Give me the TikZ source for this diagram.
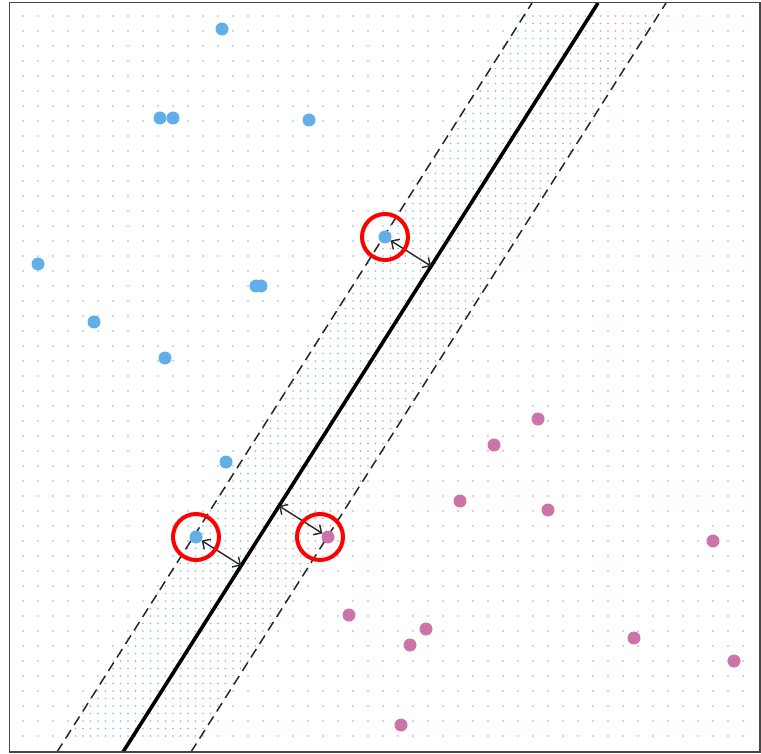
\documentclass[tikz,border=0pt]{standalone}
\usepackage{xcolor}
\usepackage{tikz}
\usetikzlibrary{arrows.meta, calc}
\definecolor{myblue}{RGB}{98,174,232}
\definecolor{mypink}{RGB}{204,116,168}
\definecolor{myframe}{RGB}{70,70,70}
\tikzset{
  bluept/.style={circle, fill=myblue, inner sep=0pt, minimum size=13pt},
  pinkpt/.style={circle, fill=mypink, inner sep=0pt, minimum size=13pt},
  svring/.style={circle, draw=red, line width=4pt, minimum size=46pt, inner sep=0pt},
  marginline/.style={line width=1.5pt, dash pattern=on 10pt off 6pt, color=black!85},
  hyperline/.style={line width=3.6pt, color=black},
  gaparrow/.style={{Straight Barb[length=6pt]}-{Straight Barb[length=6pt]}, line width=1.4pt, color=black!85},
  bluedot/.style={fill=myblue!85!white},
  pinkdot/.style={fill=mypink!80!white}
}

\begin{document}
\begin{tikzpicture}[x=1pt, y=-1pt]
  \useasboundingbox (0,0) rectangle (761,754);

  % coarse grid, coloured by side of the boundary
  \foreach \j in {0,...,48}{
    \foreach \i in {0,...,48}{
      \pgfmathsetmacro{\gx}{23+15*\i}
      \pgfmathsetmacro{\gy}{16+15*\j}
      \pgfmathsetmacro{\gd}{\gx-123-(752-\gy)*0.63418}
      \ifdim\gd pt<0pt
        \fill[bluedot] (\gx,\gy) circle (0.95pt);
      \else
        \fill[pinkdot] (\gx,\gy) circle (0.95pt);
      \fi
    }
  }

  % denser grid inside the margin
  \foreach \b in {0,...,96}{
    \pgfmathsetmacro{\gy}{16+7.5*\b}
    \pgfmathsetmacro{\gl}{123+(752-\gy)*0.63418}
    \pgfmathtruncatemacro{\alo}{ceil((\gl-67-23)/7.5)}
    \pgfmathtruncatemacro{\ahi}{min(96,floor((\gl+67-23)/7.5))}
    \foreach \a in {\alo,...,\ahi}{
      \pgfmathtruncatemacro{\skip}{and(iseven(\a),iseven(\b))}
      \ifnum\skip=0
        \pgfmathsetmacro{\gx}{23+7.5*\a}
        \ifdim\gx pt<\gl pt
          \fill[bluedot] (\gx,\gy) circle (0.85pt);
        \else
          \fill[pinkdot] (\gx,\gy) circle (0.85pt);
        \fi
      \fi
    }
  }

  % boundary and margins
  \coordinate (hbot) at (123,752);
  \coordinate (htop) at (598,3);
  \coordinate (lbot) at (57,752);
  \coordinate (ltop) at (532,3);
  \coordinate (rbot) at (191,752);
  \coordinate (rtop) at (666,3);
  \draw[marginline] (lbot) -- (ltop);
  \draw[marginline] (rbot) -- (rtop);
  \draw[hyperline] (hbot) -- (htop);

  % blue class
  \node[bluept] (b1)  at (222,29)  {};
  \node[bluept] (b2)  at (160,118) {};
  \node[bluept] (b3)  at (173,118) {};
  \node[bluept] (b4)  at (309,120) {};
  \node[bluept] (b5)  at (38,264)  {};
  \node[bluept] (b6)  at (256,286) {};
  \node[bluept] (b7)  at (261,286) {};
  \node[bluept] (b8)  at (94,322)  {};
  \node[bluept] (b9)  at (165,358) {};
  \node[bluept] (b10) at (226,462) {};
  \node[bluept] (b11) at (196,537) {};
  \node[bluept] (b12) at (385,237) {};

  % pink class
  \node[pinkpt] (p1)  at (538,419) {};
  \node[pinkpt] (p2)  at (494,445) {};
  \node[pinkpt] (p3)  at (460,501) {};
  \node[pinkpt] (p4)  at (548,510) {};
  \node[pinkpt] (p5)  at (713,541) {};
  \node[pinkpt] (p6)  at (328,537) {};
  \node[pinkpt] (p7)  at (349,615) {};
  \node[pinkpt] (p8)  at (426,629) {};
  \node[pinkpt] (p9)  at (410,645) {};
  \node[pinkpt] (p10) at (634,638) {};
  \node[pinkpt] (p11) at (734,661) {};
  \node[pinkpt] (p12) at (401,725) {};

  % distances of the support vectors
  \coordinate (f1) at ($(htop)!(b12)!(hbot)$);
  \coordinate (f2) at ($(htop)!(b11)!(hbot)$);
  \coordinate (f3) at ($(htop)!(p6)!(hbot)$);
  \draw[gaparrow] (b12) -- (f1);
  \draw[gaparrow] (b11) -- (f2);
  \draw[gaparrow] (p6) -- (f3);

  % support vectors
  \node[svring] (s1) at (b12) {};
  \node[svring] (s2) at (b11) {};
  \node[svring] (s3) at ([xshift=-8pt]p6.center) {};

  \draw[line width=1.2pt, myframe] (9.5,2.5) rectangle (760,752);
\end{tikzpicture}
\end{document}
